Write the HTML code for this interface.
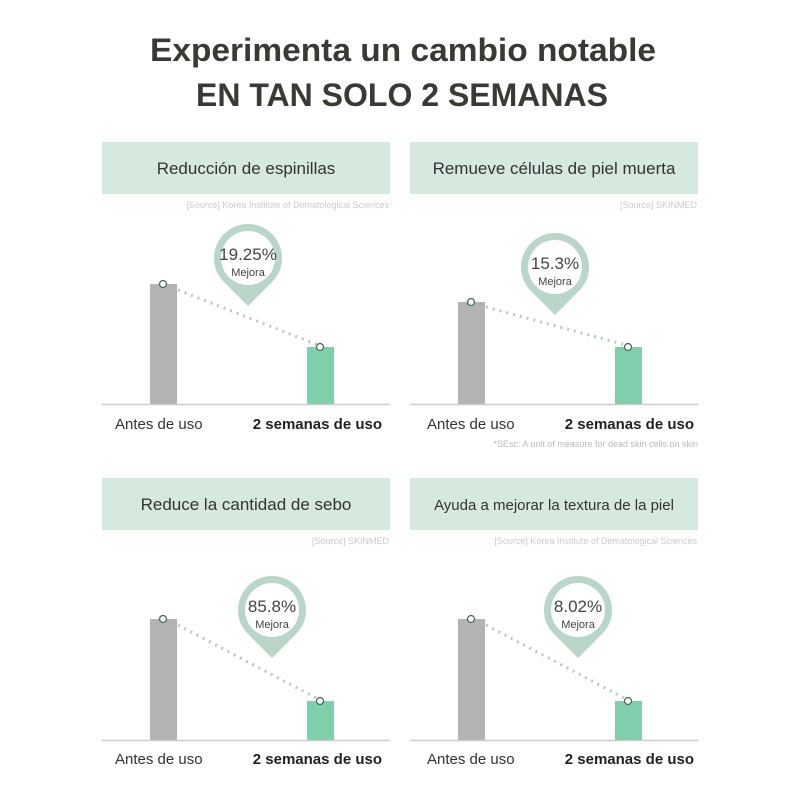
<!DOCTYPE html>
<html><head><meta charset="utf-8"><style>
html,body{margin:0;padding:0;background:#fff;}
svg{display:block;font-family:"Liberation Sans",sans-serif;}
</style></head><body>
<svg width="800" height="800" viewBox="0 0 800 800">
<rect width="800" height="800" fill="#fff"/>
<text x="403" y="61" text-anchor="middle" font-size="32" font-weight="bold" fill="#3a3a34" textLength="506" lengthAdjust="spacingAndGlyphs">Experimenta un cambio notable</text>
<text x="402" y="106" text-anchor="middle" font-size="32" font-weight="bold" fill="#3a3a34" textLength="412" lengthAdjust="spacingAndGlyphs">EN TAN SOLO 2 SEMANAS</text>

<defs>
<g id="pin">
<path d="M-34,0 A34,34 0 1,1 34,0 A34,34 0 0,1 24,24 L0,48 L-24,24 A34,34 0 0,1 -34,0 Z" fill="#b9d6c9"/>
<circle r="27" fill="#fff"/>
</g>
</defs>

<!-- Panel 1 -->
<rect x="102" y="142" width="288" height="52" fill="#d5e9de"/>
<text x="246" y="174" text-anchor="middle" font-size="17" fill="#333">Reducción de espinillas</text>
<text x="389" y="208" text-anchor="end" font-size="9" fill="#ccc">[Source] Korea Institute of Dematological Sciences</text>
<rect x="150" y="284" width="27" height="120" fill="#b3b3b3"/>
<rect x="307" y="347" width="27" height="57" fill="#7fcfaa"/>
<line x1="178" y1="290" x2="318" y2="345" stroke="#b9c9c0" stroke-width="3" stroke-dasharray="2,5"/>
<circle cx="163" cy="284" r="3.5" fill="#fff" stroke="#4a6a5a" stroke-width="1.3"/>
<circle cx="320" cy="347" r="3.5" fill="#fff" stroke="#4a6a5a" stroke-width="1.3"/>
<use href="#pin" x="248" y="258"/>
<text x="248" y="260" text-anchor="middle" font-size="17" fill="#444">19.25%</text>
<text x="248" y="276" text-anchor="middle" font-size="11" fill="#444">Mejora</text>
<line x1="102" y1="404.5" x2="390" y2="404.5" stroke="#ccc" stroke-width="1.5"/>
<text x="115" y="429" font-size="15" fill="#333">Antes de uso</text>
<text x="382" y="429" text-anchor="end" font-size="15" font-weight="bold" fill="#222">2 semanas de uso</text>

<!-- Panel 2 -->
<rect x="410" y="142" width="288" height="52" fill="#d5e9de"/>
<text x="554" y="174" text-anchor="middle" font-size="17" fill="#333">Remueve células de piel muerta</text>
<text x="697" y="208" text-anchor="end" font-size="9" fill="#ccc">[Source] SKINMED</text>
<rect x="458" y="302" width="27" height="102" fill="#b3b3b3"/>
<rect x="615" y="347" width="27" height="57" fill="#7fcfaa"/>
<line x1="486" y1="307" x2="626" y2="345" stroke="#b9c9c0" stroke-width="3" stroke-dasharray="2,5"/>
<circle cx="471" cy="302" r="3.5" fill="#fff" stroke="#4a6a5a" stroke-width="1.3"/>
<circle cx="628" cy="347" r="3.5" fill="#fff" stroke="#4a6a5a" stroke-width="1.3"/>
<use href="#pin" x="555" y="267"/>
<text x="555" y="269" text-anchor="middle" font-size="17" fill="#444">15.3%</text>
<text x="555" y="285" text-anchor="middle" font-size="11" fill="#444">Mejora</text>
<line x1="410" y1="404.5" x2="698" y2="404.5" stroke="#ccc" stroke-width="1.5"/>
<text x="427" y="429" font-size="15" fill="#333">Antes de uso</text>
<text x="694" y="429" text-anchor="end" font-size="15" font-weight="bold" fill="#222">2 semanas de uso</text>
<text x="698" y="447" text-anchor="end" font-size="9" fill="#bbb">*SEsc: A unit of measure for dead skin cells on skin</text>

<!-- Panel 3 -->
<rect x="102" y="478" width="288" height="52" fill="#d5e9de"/>
<text x="246" y="510" text-anchor="middle" font-size="17" fill="#333">Reduce la cantidad de sebo</text>
<text x="389" y="544" text-anchor="end" font-size="9" fill="#ccc">[Source] SKINMED</text>
<rect x="150" y="619" width="27" height="121" fill="#b3b3b3"/>
<rect x="307" y="701" width="27" height="39" fill="#7fcfaa"/>
<line x1="178" y1="625" x2="318" y2="699" stroke="#b9c9c0" stroke-width="3" stroke-dasharray="2,5"/>
<circle cx="163" cy="619" r="3.5" fill="#fff" stroke="#4a6a5a" stroke-width="1.3"/>
<circle cx="320" cy="701" r="3.5" fill="#fff" stroke="#4a6a5a" stroke-width="1.3"/>
<use href="#pin" x="272" y="610"/>
<text x="272" y="612" text-anchor="middle" font-size="17" fill="#444">85.8%</text>
<text x="272" y="628" text-anchor="middle" font-size="11" fill="#444">Mejora</text>
<line x1="102" y1="740.5" x2="390" y2="740.5" stroke="#ccc" stroke-width="1.5"/>
<text x="115" y="764" font-size="15" fill="#333">Antes de uso</text>
<text x="382" y="764" text-anchor="end" font-size="15" font-weight="bold" fill="#222">2 semanas de uso</text>

<!-- Panel 4 -->
<rect x="410" y="478" width="288" height="52" fill="#d5e9de"/>
<text x="554" y="510" text-anchor="middle" font-size="15" fill="#333">Ayuda a mejorar la textura de la piel</text>
<text x="697" y="544" text-anchor="end" font-size="9" fill="#ccc">[Source] Korea Institute of Dematological Sciences</text>
<rect x="458" y="619" width="27" height="121" fill="#b3b3b3"/>
<rect x="615" y="701" width="27" height="39" fill="#7fcfaa"/>
<line x1="486" y1="625" x2="626" y2="699" stroke="#b9c9c0" stroke-width="3" stroke-dasharray="2,5"/>
<circle cx="471" cy="619" r="3.5" fill="#fff" stroke="#4a6a5a" stroke-width="1.3"/>
<circle cx="628" cy="701" r="3.5" fill="#fff" stroke="#4a6a5a" stroke-width="1.3"/>
<use href="#pin" x="578" y="610"/>
<text x="578" y="612" text-anchor="middle" font-size="17" fill="#444">8.02%</text>
<text x="578" y="628" text-anchor="middle" font-size="11" fill="#444">Mejora</text>
<line x1="410" y1="740.5" x2="698" y2="740.5" stroke="#ccc" stroke-width="1.5"/>
<text x="427" y="764" font-size="15" fill="#333">Antes de uso</text>
<text x="694" y="764" text-anchor="end" font-size="15" font-weight="bold" fill="#222">2 semanas de uso</text>
</svg>
</body></html>
